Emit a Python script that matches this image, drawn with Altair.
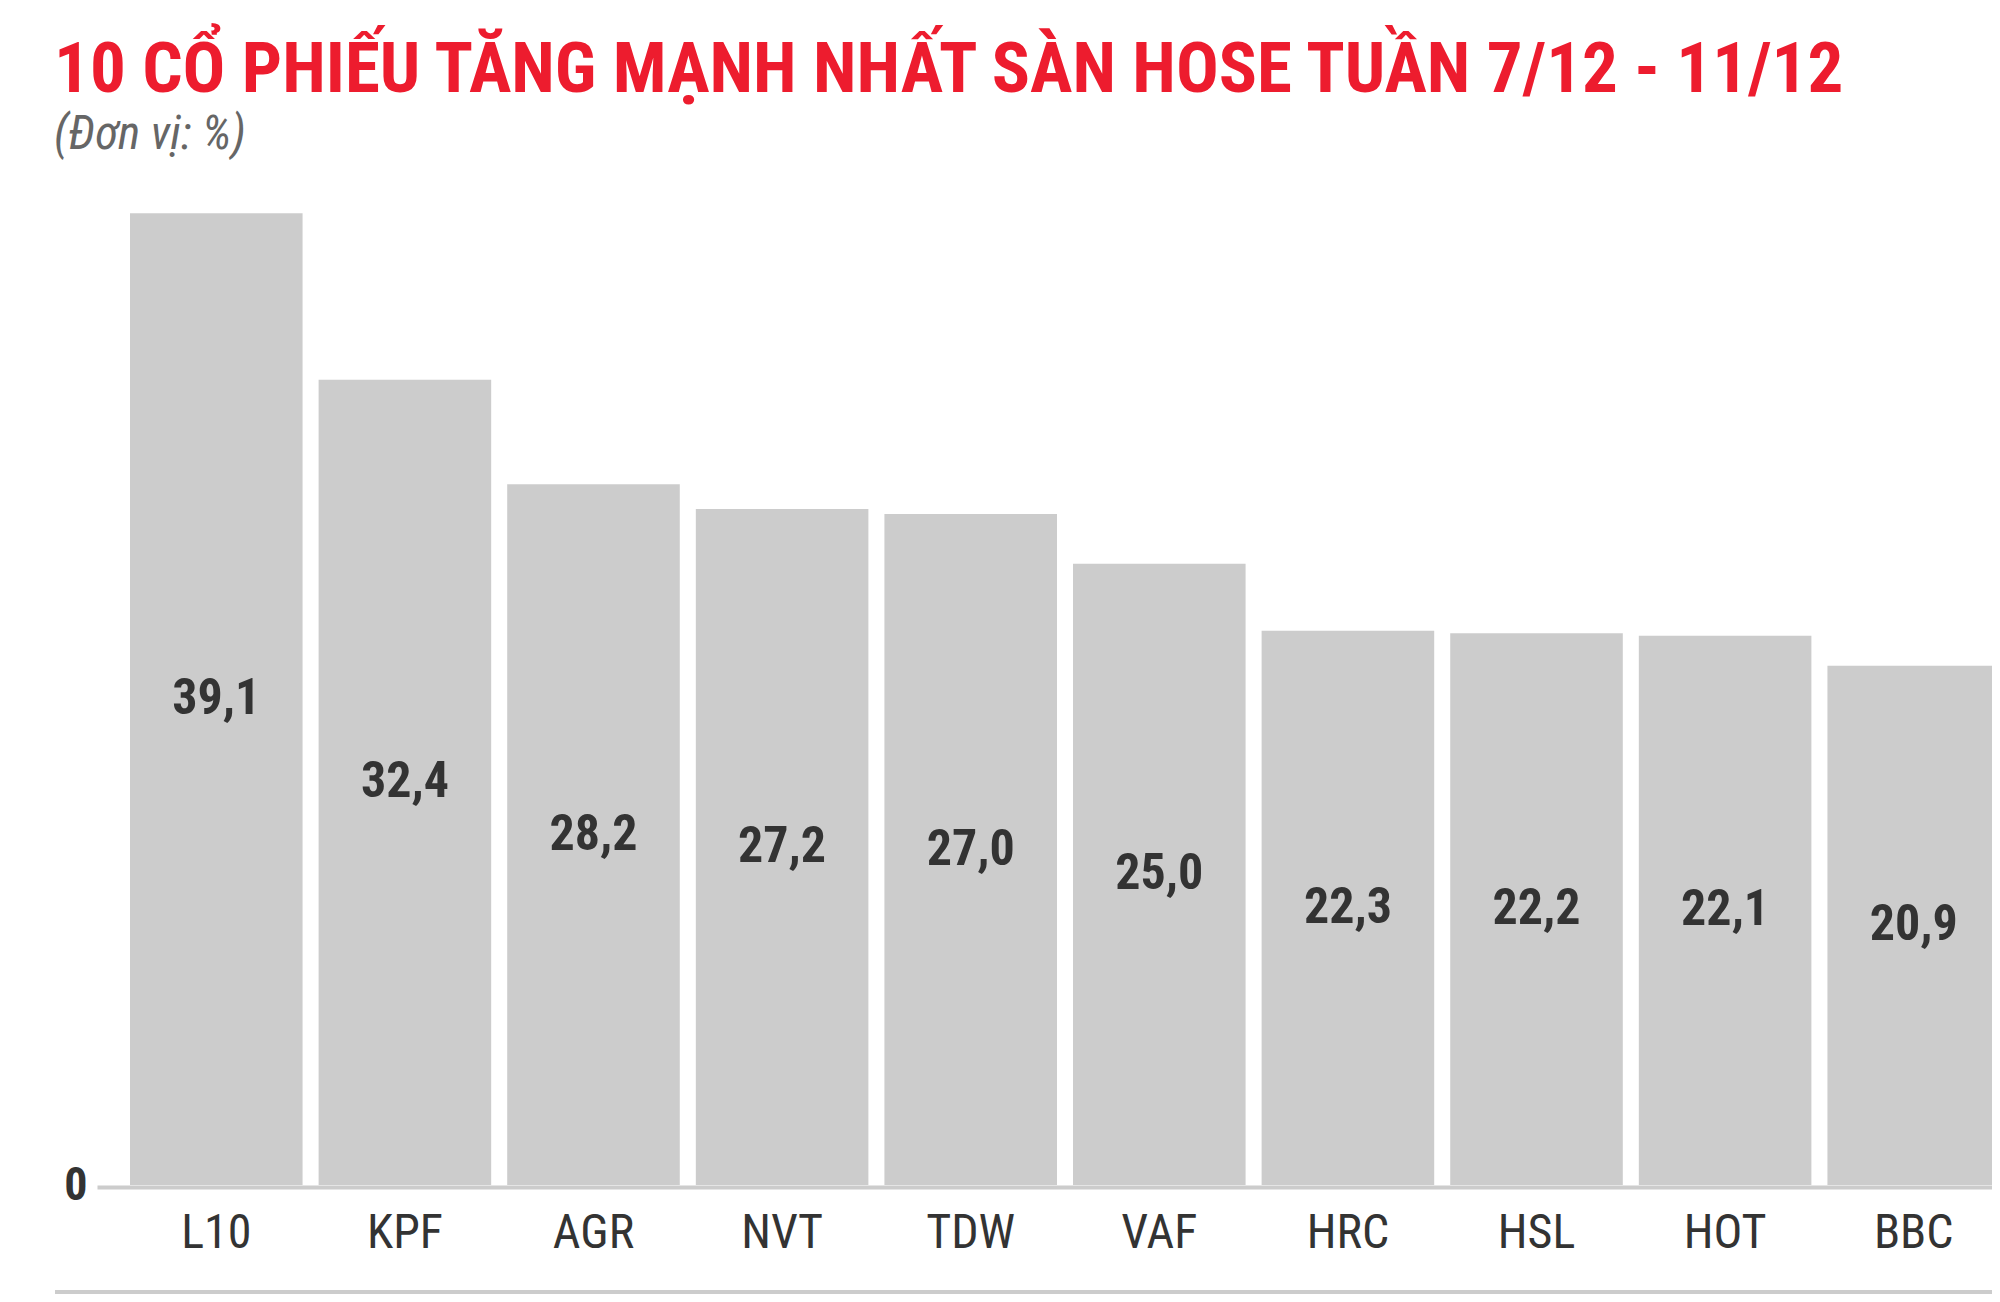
import altair as alt
import pandas as pd

tickers = ["L10", "KPF", "AGR", "NVT", "TDW", "VAF", "HRC", "HSL", "HOT", "BBC"]
gains = [39.1, 32.4, 28.2, 27.2, 27.0, 25.0, 22.3, 22.2, 22.1, 20.9]
labels = [f"{v:.1f}".replace(".", ",") for v in gains]

df = pd.DataFrame({"ma": tickers, "tang": gains, "nhan": labels})

COND = "'Roboto Condensed', 'Liberation Sans Narrow', 'DejaVu Sans Condensed', Roboto, sans-serif"

W, H = 1903, 994

xscale = alt.Scale(paddingInner=0.085, paddingOuter=0.0875, align=1)
xaxis = alt.Axis(labelAngle=0, labelFont=COND, labelFontSize=48, labelColor="#333333",
                 labelPadding=22, ticks=False, domainColor="#cccccc", domainWidth=4,
                 offset=2, grid=False)
yscale = alt.Scale(domain=[0, 40], nice=False)
yaxis = alt.Axis(values=[0], labelFont=COND, labelFontSize=46, labelFontWeight="bold",
                 labelColor="#333333", labelPadding=10, ticks=False, domain=False, grid=False)

bars = alt.Chart(df).mark_bar(color="#cccccc").encode(
    x=alt.X("ma:N", sort=tickers, title=None, scale=xscale, axis=xaxis),
    y=alt.Y("tang:Q", title=None, scale=yscale, axis=yaxis),
)

text = alt.Chart(df).transform_calculate(mid="datum.tang / 2").mark_text(
    font=COND, fontSize=50, fontWeight="bold", color="#333333", baseline="middle"
).encode(
    x=alt.X("ma:N", sort=tickers, title=None, scale=xscale, axis=xaxis),
    y=alt.Y("mid:Q", title=None, scale=yscale, axis=yaxis),
    text="nhan:N",
)

bottom_rule = alt.Chart(pd.DataFrame({"k": [0]})).mark_rule(color="#cccccc", strokeWidth=5).encode(
    x=alt.value(-42), x2=alt.value(W), y=alt.value(1101.5)
)

chart = alt.layer(bars, text, bottom_rule).properties(
    width=W,
    height=H,
    autosize=alt.AutoSizeParams(type="none"),
    padding={"left": 89, "top": 183, "right": -8, "bottom": 109},
    title=alt.TitleParams(
        text="10 CỔ PHIẾU TĂNG MẠNH NHẤT SÀN HOSE TUẦN 7/12 - 11/12",
        subtitle="(Đơn vị: %)",
        anchor="start",
        frame="group",
        font=COND,
        fontSize=71,
        fontWeight="bold",
        color="#ED1C2E",
        subtitleFont=COND,
        subtitleFontSize=47,
        subtitleFontStyle="italic",
        subtitleColor="#666666",
        subtitlePadding=5,
        dx=-43,
        offset=32,
    ),
).configure_view(stroke=None)

chart.save("out.html", embed_options={"renderer": "svg", "actions": False})
